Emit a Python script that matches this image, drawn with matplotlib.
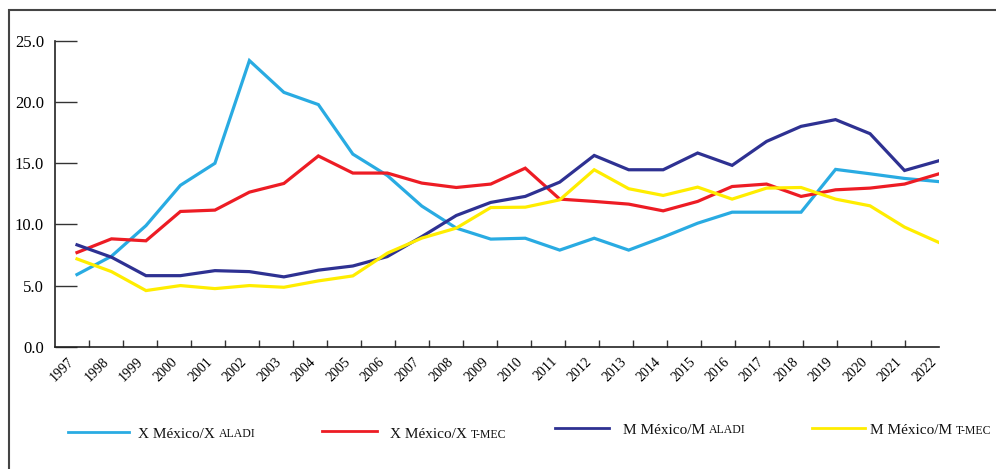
import matplotlib
matplotlib.use("Agg")
import matplotlib.pyplot as plt
from matplotlib.patches import Rectangle
from matplotlib.lines import Line2D

years = [str(y) for y in range(1997, 2023)]
x_mex_x_aladi = [5.9, 7.4, 9.9, 13.2, 15.0, 23.4, 20.8, 19.8, 15.75, 14.0, 11.5, 9.7, 8.8,
                 8.87, 7.9, 8.87, 7.9, 8.96, 10.1, 11.0, 11.0, 11.0, 14.5, 14.14, 13.76, 13.5]
x_mex_x_tmec = [7.7, 8.82, 8.66, 11.06, 11.17, 12.64, 13.35, 15.6, 14.2, 14.2, 13.38, 13.02, 13.3,
                14.6, 12.07, 11.88, 11.66, 11.11, 11.88, 13.1, 13.3, 12.29, 12.83, 12.97, 13.3, 14.14]
m_mex_m_aladi = [8.33, 7.32, 5.81, 5.81, 6.22, 6.14, 5.71, 6.26, 6.6, 7.37, 9.0, 10.73, 11.8,
                 12.29, 13.46, 15.64, 14.47, 14.47, 15.84, 14.83, 16.79, 18.02, 18.57, 17.42, 14.41, 15.21]
m_mex_m_tmec = [7.18, 6.14, 4.59, 5.0, 4.75, 5.0, 4.86, 5.38, 5.79, 7.65, 8.88, 9.7, 11.38,
                11.41, 12.01, 14.47, 12.92, 12.37, 13.05, 12.07, 12.97, 13.02, 12.07, 11.52, 9.78, 8.52]
y_ticks = [0, 5, 10, 15, 20, 25]
y_labels = ["0.0", "5.0", "10.0", "15.0", "20.0", "25.0"]

series = [
    (x_mex_x_aladi, "#29ABE2", "X México/X", "ALADI"),
    (x_mex_x_tmec, "#ED1C24", "X México/X", "T-MEC"),
    (m_mex_m_aladi, "#2E3192", "M México/M", "ALADI"),
    (m_mex_m_tmec, "#FFED00", "M México/M", "T-MEC"),
]

plt.rcParams['font.family'] = ['Liberation Serif', 'DejaVu Serif']

W, H = 996, 469
fig = plt.figure(figsize=(W / 100, H / 100), dpi=100)

left_px, right_px, top_px, bottom_px = 55, 939, 41, 346.7
ax = fig.add_axes([left_px / W, 1 - bottom_px / H, (right_px - left_px) / W, (bottom_px - top_px) / H])

xs = list(range(len(years)))
for vals, col, _, _ in series:
    ax.plot(xs, vals, color=col, lw=2.3, solid_joinstyle='miter', zorder=3)

step = (939 - 77) / 25.0
ax.set_xlim(-(77 - 55) / step, 25)
ax.set_ylim(0, 25)

for s in ["top", "right"]:
    ax.spines[s].set_visible(False)
for s in ["left", "bottom"]:
    ax.spines[s].set_color("#222222")
    ax.spines[s].set_linewidth(1.2)

ax.set_yticks(y_ticks)
ax.set_yticklabels(y_labels, fontsize=12)
ax.tick_params(axis='y', direction='in', length=16, width=1.0, color="#333333", pad=8)

ax.set_xticks(xs)
ax.set_xticklabels(years, rotation=45, ha='right', va='top', fontsize=10)
ax.tick_params(axis='x', which='major', length=0, pad=6)
minor_pos = [(12 + 34 * k) / step for k in range(26)]
ax.set_xticks(minor_pos, minor=True)
ax.tick_params(axis='x', which='minor', direction='in', length=5, width=1.0, color="#333333")

fig.patches.append(Rectangle((8.5 / W, -0.1), 1.2, 1 - 10.5 / H + 0.1, transform=fig.transFigure,
                             fill=False, edgecolor="#444444", linewidth=1.5))

leg = [
    (68, 129, 432, 138, 434),
    (322, 377, 431, 390, 435),
    (555, 609, 427.5, 623, 430),
    (812, 865, 427.5, 870, 431),
]
for (vals, col, main, sc), (x0, x1, ly, tx, ty) in zip(series, leg):
    fig.add_artist(Line2D([x0 / W, x1 / W], [1 - ly / H, 1 - ly / H], color=col, lw=2.0,
                          transform=fig.transFigure))
    t = fig.text(tx / W, 1 - ty / H, main, fontsize=11, ha='left', va='center', color="#111111")
    ax.annotate(sc, xy=(1, 0.04), xycoords=t, xytext=(3, 0), textcoords='offset points',
                fontsize=8.5, ha='left', va='bottom', color="#111111", annotation_clip=False)

fig.savefig("out.png", dpi=100)
